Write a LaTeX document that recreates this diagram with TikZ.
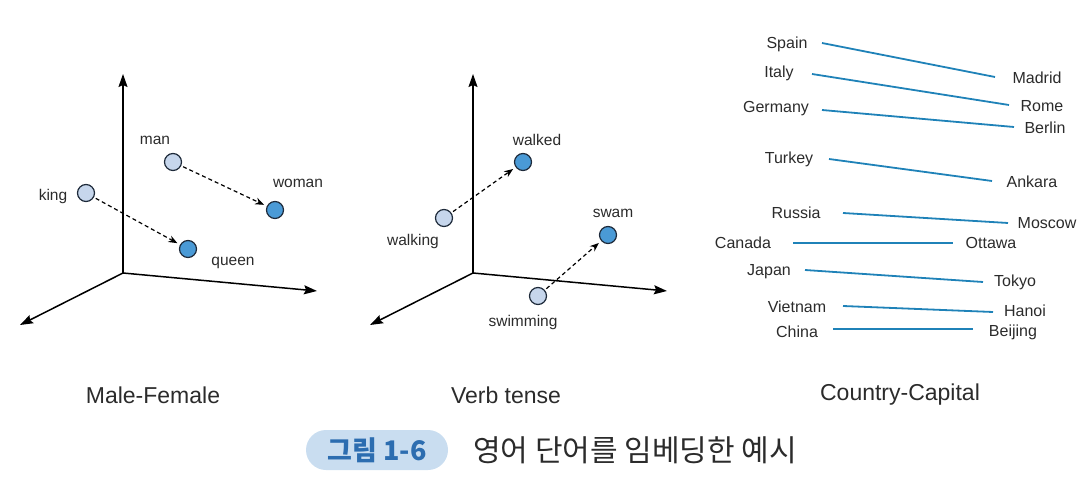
\documentclass[tikz,border=0pt]{standalone}
\usepackage{fontspec}
\setmainfont{Liberation Sans}
\newfontfamily\kr{Noto Sans CJK KR}
\usetikzlibrary{arrows.meta,calc}
\definecolor{ptlight}{HTML}{C6D6EC}
\definecolor{ptdark}{HTML}{4A9AD6}
\definecolor{ptedge}{HTML}{1E2A3A}
\definecolor{capline}{HTML}{1F82B8}
\definecolor{pillfill}{HTML}{C9DDF0}
\definecolor{pilltext}{HTML}{2C6DB0}
\definecolor{txt}{HTML}{2B2B2B}
\tikzset{
  x=1pt,y=-1pt,
  axis/.style={line width=1.5pt,-{Stealth[length=13pt,width=9pt,inset=2pt]}},
  lpt/.style={circle,draw=ptedge,line width=1.2pt,fill=ptlight,minimum size=17pt,inner sep=0pt},
  dpt/.style={circle,draw=ptedge,line width=1.2pt,fill=ptdark,minimum size=17pt,inner sep=0pt},
  vec/.style={line width=1.2pt,dash pattern=on 4pt off 3pt,-{Stealth[length=9pt,width=7pt]},shorten >=3pt,shorten <=2pt},
  word/.style={font=\fontsize{15.5}{18}\selectfont,text=txt,inner sep=0pt},
  cword/.style={font=\fontsize{16}{18}\selectfont,text=txt,inner sep=0pt},
  capln/.style={capline,line width=1.8pt},
  title/.style={font=\fontsize{23}{27}\selectfont,text=txt,inner sep=0pt}
}
\begin{document}
\begin{tikzpicture}
\useasboundingbox (0,0) rectangle (1089,478);
% ---------- Panel 1 ----------
\coordinate (o1) at (123,273);
\coordinate (t1) at (123,74);
\coordinate (r1) at (317,291);
\coordinate (l1) at (20,325);
\draw[axis] (o1) -- (t1);
\draw[axis] (o1) -- (r1);
\draw[axis] (o1) -- (l1);
\node[lpt] (man) at (173,162) {};
\node[dpt] (woman) at (275,210) {};
\node[lpt] (king) at (86,193) {};
\node[dpt] (queen) at (188,249) {};
\node[word] (lman) at (155,140) {man};
\node[word] (lwoman) at (298,183) {woman};
\node[word] (lking) at (53,196) {king};
\node[word] (lqueen) at (233,263) {queen};
\draw[vec] (man) -- (woman);
\draw[vec] (king) -- (queen);
\node[title] (t1lab) at (153,395) {Male-Female};
% ---------- Panel 2 ----------
\coordinate (o2) at (473,273);
\coordinate (t2) at (473,74);
\coordinate (r2) at (667,291);
\coordinate (l2) at (370,325);
\draw[axis] (o2) -- (t2);
\draw[axis] (o2) -- (r2);
\draw[axis] (o2) -- (l2);
\node[dpt] (walked) at (523,162) {};
\node[lpt] (walking) at (444,218) {};
\node[dpt] (swam) at (608,235) {};
\node[lpt] (swimming) at (538,296) {};
\node[word] (lwalked) at (537,140) {walked};
\node[word] (lwalking) at (413,241) {walking};
\node[word] (lswam) at (613,213) {swam};
\node[word] (lswimming) at (523,322) {swimming};
\draw[vec] (walking) -- (walked);
\draw[vec] (swimming) -- (swam);
\node[title] (t2lab) at (506,395) {Verb tense};
% ---------- Panel 3 ----------
\node[cword] (spain) at (787,44) {Spain};
\node[cword] (madrid) at (1037,78) {Madrid};
\node[cword] (italy) at (779,73) {Italy};
\node[cword] (rome) at (1042,106) {Rome};
\node[cword] (germany) at (776,109) {Germany};
\node[cword] (berlin) at (1045,128) {Berlin};
\node[cword] (turkey) at (789,159) {Turkey};
\node[cword] (ankara) at (1032,182) {Ankara};
\node[cword] (russia) at (796,213) {Russia};
\node[cword] (moscow) at (1047,223) {Moscow};
\node[cword] (canada) at (743,243) {Canada};
\node[cword] (ottawa) at (991,243) {Ottawa};
\node[cword] (japan) at (769,272) {Japan};
\node[cword] (tokyo) at (1015,282) {Tokyo};
\node[cword] (vietnam) at (797,307) {Vietnam};
\node[cword] (hanoi) at (1025,311) {Hanoi};
\node[cword] (china) at (797,332) {China};
\node[cword] (beijing) at (1013,332) {Beijing};
\draw[capln] ($(spain.center)+(35,-1)$) -- ($(madrid.center)+(-42,-1)$);
\draw[capln] ($(italy.center)+(33,1)$) -- ($(rome.center)+(-33,-1)$);
\draw[capln] ($(germany.center)+(46,1)$) -- ($(berlin.center)+(-31,-1)$);
\draw[capln] ($(turkey.center)+(40,0)$) -- ($(ankara.center)+(-40,-1)$);
\draw[capln] ($(russia.center)+(47,0)$) -- ($(moscow.center)+(-39,0)$);
\draw[capln] ($(canada.center)+(50,0)$) -- ($(ottawa.center)+(-38,0)$);
\draw[capln] ($(japan.center)+(36,-2)$) -- ($(tokyo.center)+(-32,0)$);
\draw[capln] ($(vietnam.center)+(46,-1)$) -- ($(hanoi.center)+(-32,1)$);
\draw[capln] ($(china.center)+(36,-3)$) -- ($(beijing.center)+(-40,-3)$);
\node[title] (t3lab) at (900,395) {Country-Capital};
% ---------- Caption ----------
\node[fill=pillfill,rounded corners=20pt,minimum width=142pt,minimum height=40pt,inner sep=0pt,
      text=pilltext,font=\kr\bfseries\fontsize{27}{30}\selectfont] (pill) at (377,450) {그림 1-6};
\node[font=\kr\fontsize{30}{34}\selectfont,text=txt,inner sep=0pt] (caption) at (635,450) {영어 단어를 임베딩한 예시};
\end{tikzpicture}
\end{document}
